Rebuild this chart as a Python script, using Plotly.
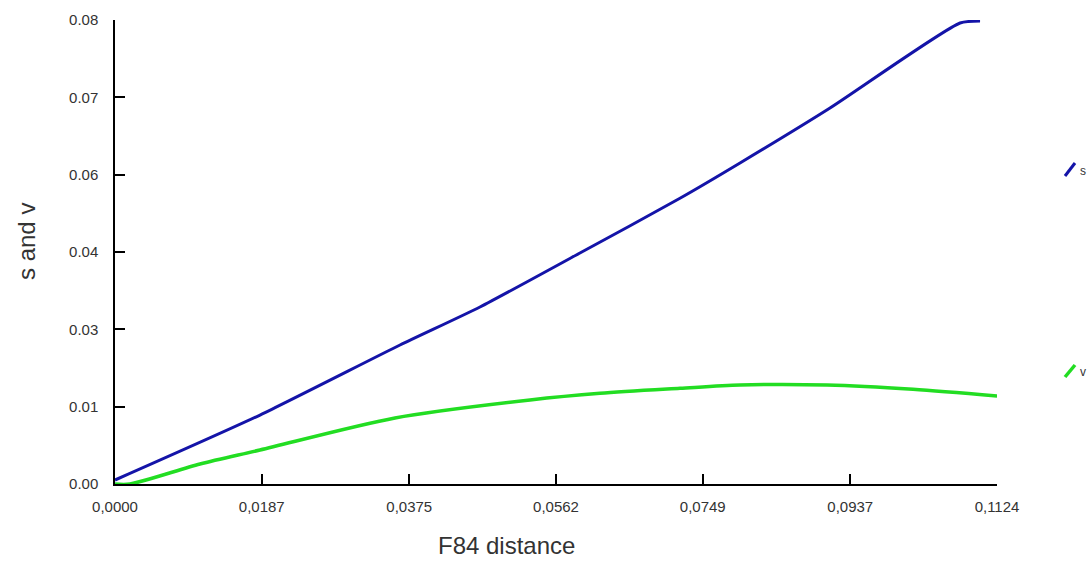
import plotly.graph_objects as go

# Data
s_x = [0.0, 0.01848, 0.03632, 0.04651, 0.05925, 0.07200, 0.07965, 0.09112, 0.10769, 0.11024]
s_y = [0.00071, 0.01228, 0.02474, 0.03151, 0.04112, 0.05086, 0.05714, 0.06693, 0.08206, 0.08242]

v_x = [0.0, 0.00191, 0.01083, 0.01848, 0.03568, 0.05289, 0.06181, 0.07200, 0.07965, 0.09074, 0.10170, 0.11241]
v_y = [0.0, 0.0, 0.00356, 0.00605, 0.01175, 0.01495, 0.01614, 0.01703, 0.01762, 0.01762, 0.01686, 0.01566]

x_tickvals = [0.0, 0.0187, 0.0375, 0.0562, 0.0749, 0.0937, 0.1124]
x_ticktext = ["0,0000", "0,0187", "0,0375", "0,0562", "0,0749", "0,0937", "0,1124"]
y_max = 0.0826
y_tickvals = [y_max * k / 6 for k in range(7)]
y_ticktext = ["0.00", "0.01", "0.03", "0.04", "0.06", "0.07", "0.08"]

W, H = 1089, 561
L, R, T, B = 115, 997, 20, 484

def px(xp):
    return (xp - L) / (R - L)

def py(yp):
    return (B - yp) / (B - T)

fig = go.Figure()
fig.add_trace(go.Scatter(x=s_x, y=s_y, mode="lines", name="s",
                         line=dict(color="#1414a8", width=3, shape="spline", smoothing=0.6)))
fig.add_trace(go.Scatter(x=v_x, y=v_y, mode="lines", name="v",
                         line=dict(color="#22dd22", width=3.5, shape="spline", smoothing=0.8)))

FONT = "Liberation Sans, Arial, sans-serif"
axis_font = dict(family=FONT, size=15, color="#333333")

fig.update_layout(
    width=W, height=H,
    margin=dict(l=L, r=W - R, t=T, b=H - B),
    paper_bgcolor="white", plot_bgcolor="white",
    showlegend=False,
    xaxis=dict(range=[0, 0.1124], tickvals=x_tickvals, ticktext=x_ticktext,
               ticks="inside", ticklen=10, tickwidth=1.5, tickcolor="black",
               showline=True, linecolor="black", linewidth=1.5,
               showgrid=False, zeroline=False, tickfont=axis_font,
               ticklabelstandoff=8),
    yaxis=dict(range=[0, y_max], tickvals=y_tickvals, ticktext=y_ticktext,
               ticks="inside", ticklen=10, tickwidth=1.5, tickcolor="black",
               showline=True, linecolor="black", linewidth=1.5,
               showgrid=False, zeroline=False, tickfont=axis_font,
               ticklabelstandoff=12),
)

title_font = dict(family=FONT, size=24, color="#333333")
fig.add_annotation(text="F84 distance", xref="paper", yref="paper",
                   x=px(506), y=py(545), showarrow=False, font=title_font,
                   xanchor="center", yanchor="middle", borderpad=0)
fig.add_annotation(text="s and v", xref="paper", yref="paper",
                   x=px(26), y=py(242), showarrow=False, font=title_font,
                   textangle=-90, xanchor="center", yanchor="middle")

# legend-like glyphs at the right edge
fig.add_shape(type="line", xref="paper", yref="paper",
              x0=px(1065), y0=py(176), x1=px(1075), y1=py(163),
              line=dict(color="#1414a8", width=3))
fig.add_shape(type="line", xref="paper", yref="paper",
              x0=px(1065), y0=py(377), x1=px(1075), y1=py(365),
              line=dict(color="#22dd22", width=3.5))
fig.add_annotation(text="s", xref="paper", yref="paper", x=px(1078), y=py(171),
                   showarrow=False, xanchor="left", yanchor="middle",
                   font=dict(family=FONT, size=12, color="#333333"))
fig.add_annotation(text="v", xref="paper", yref="paper", x=px(1078), y=py(372),
                   showarrow=False, xanchor="left", yanchor="middle",
                   font=dict(family=FONT, size=12, color="#333333"))

fig.write_html("out.html")
